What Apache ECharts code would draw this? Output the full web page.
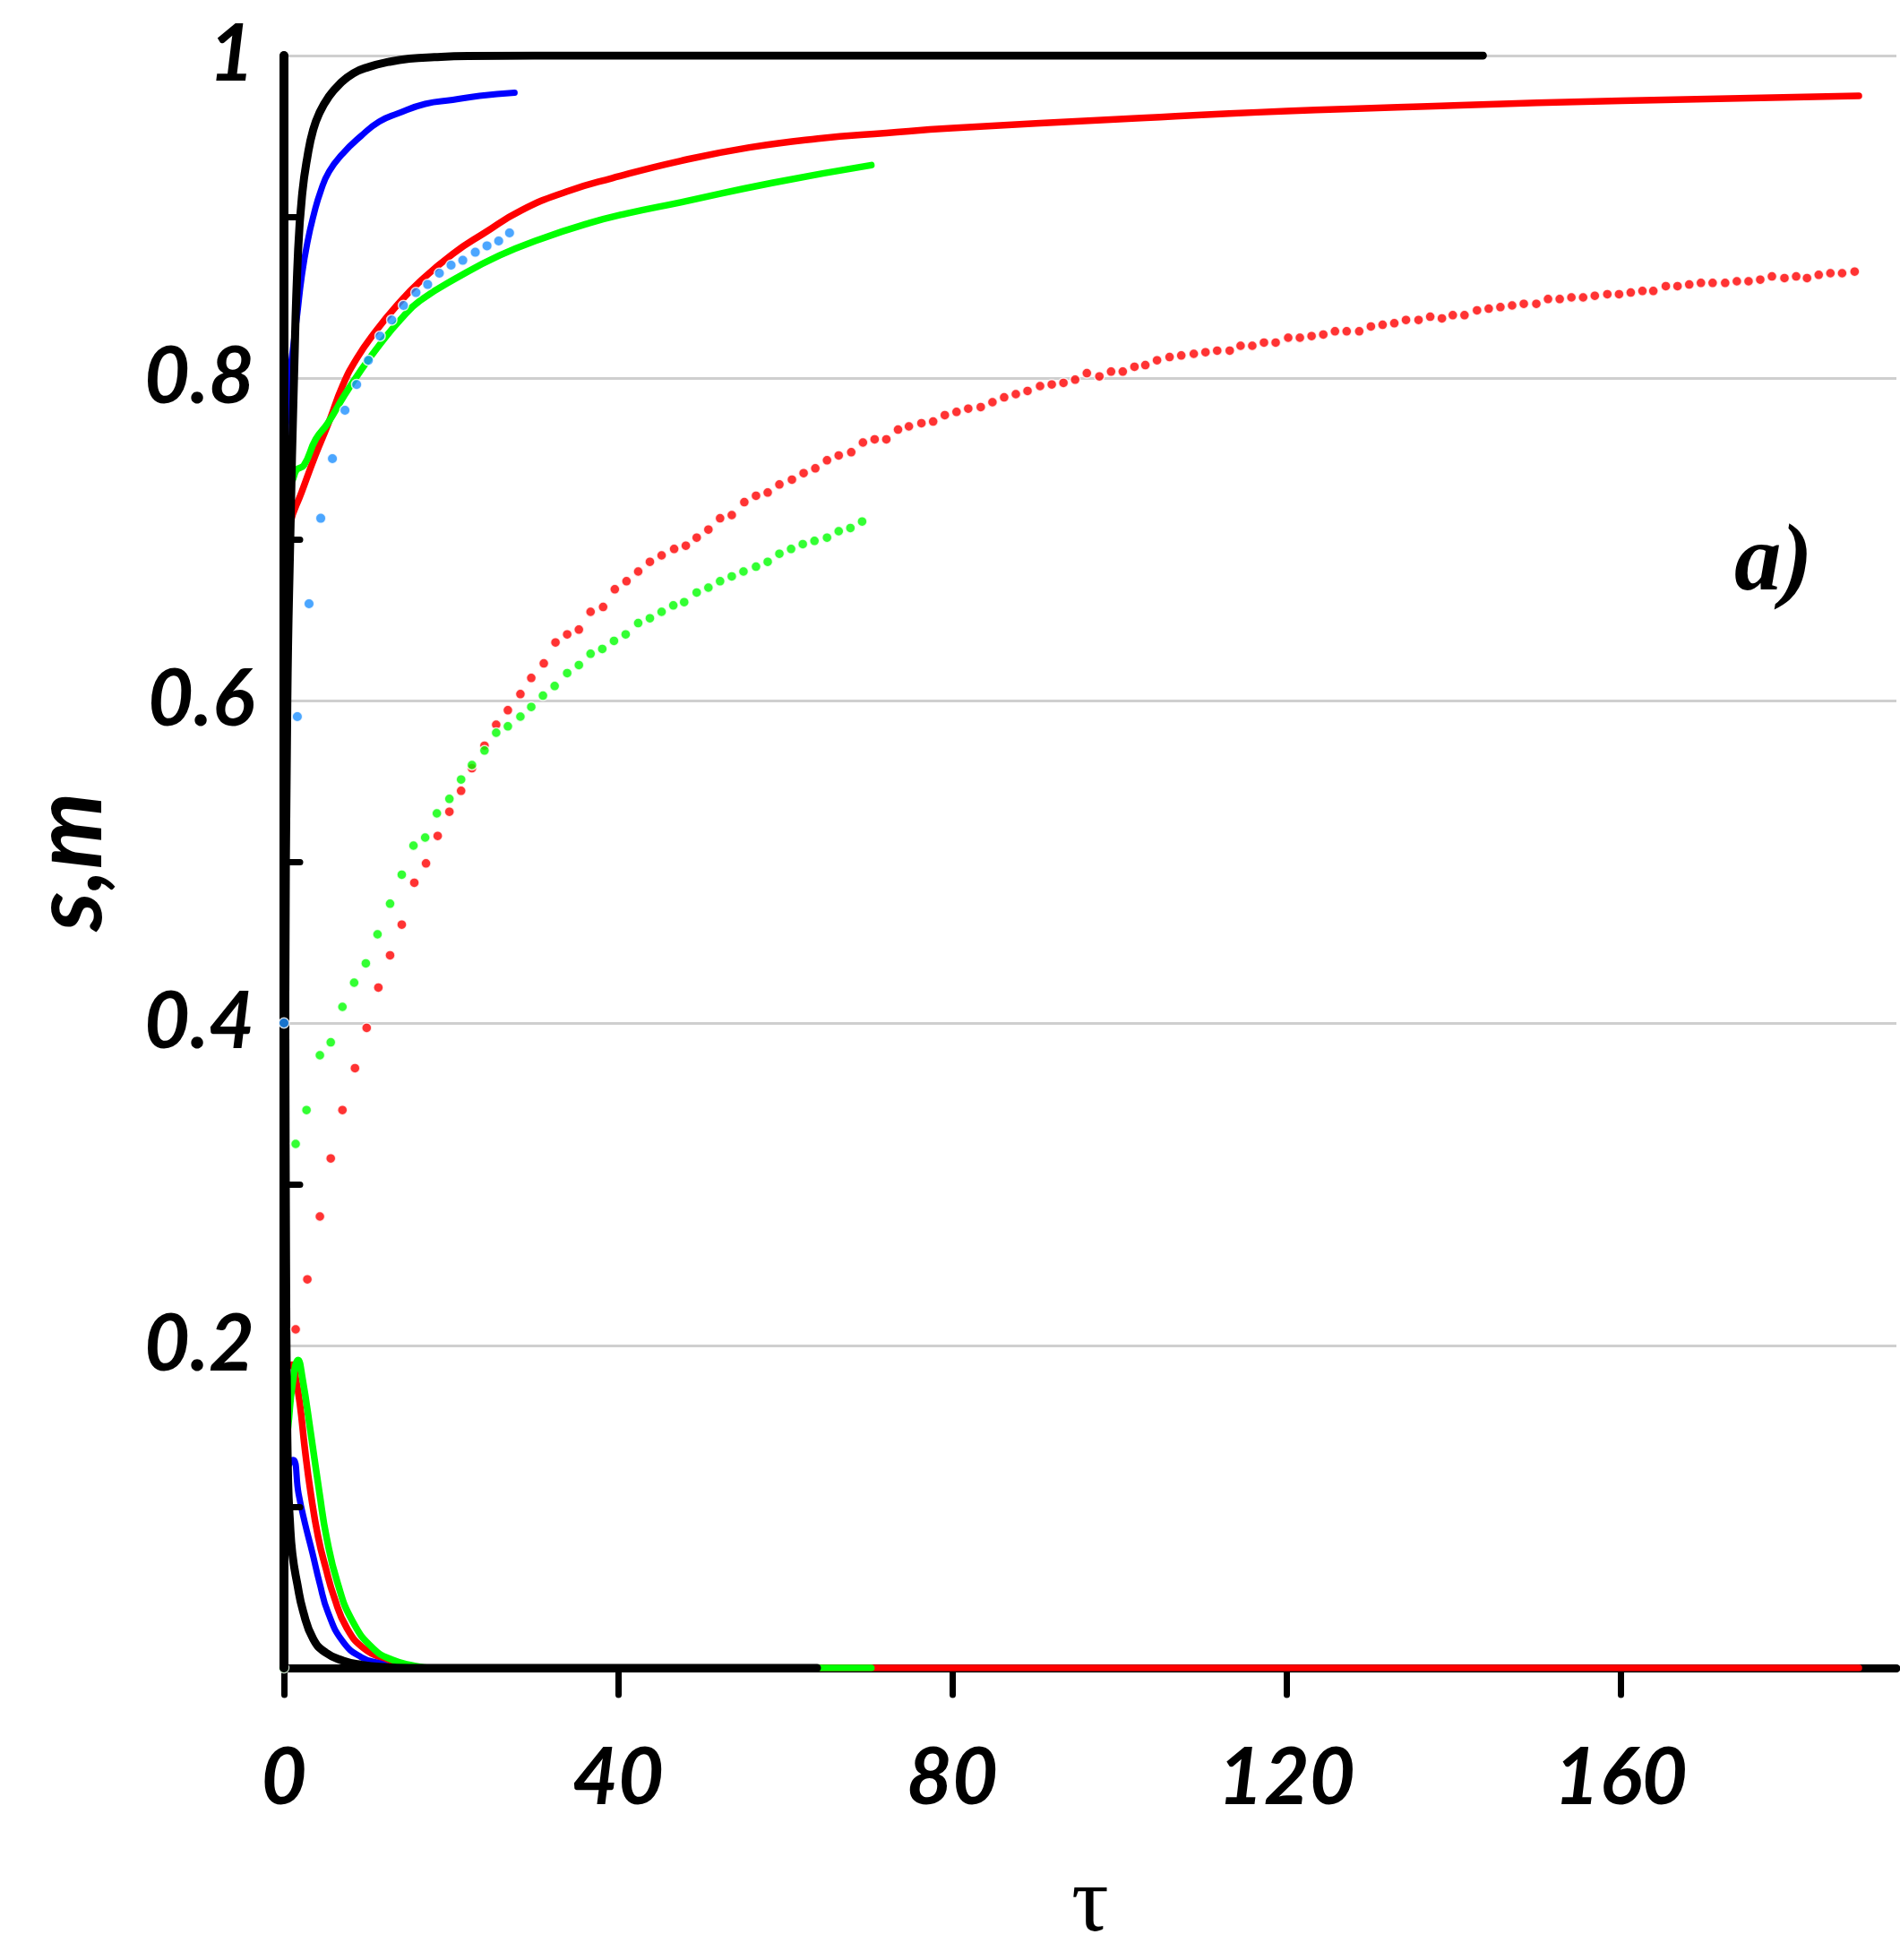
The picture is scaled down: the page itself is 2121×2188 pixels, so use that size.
<!DOCTYPE html>
<html>
<head>
<meta charset="utf-8">
<script src="https://cdn.jsdelivr.net/npm/echarts@6/dist/echarts.min.js"></script>
<style>
html,body{margin:0;padding:0;background:#fff;}
#chart{width:2121px;height:2188px;}
</style>
</head>
<body>
<div id="chart"></div>
<script>
// ---- tick labels ----
var xTickValues = [0, 40, 80, 120, 160];
var yLabelValues = [0.2, 0.4, 0.6, 0.8, 1];
var yMinorTickValues = [0.1, 0.3, 0.5, 0.7, 0.9];

// ---- solid curves: m ----
var blackM = [[0,0],[0.15,0.4],[0.4,0.6],[0.75,0.7],[1.2,0.8],[1.7,0.88],[2.2,0.915],[2.8,0.937],[3.5,0.954],[4.3,0.965],[5.3,0.974],[6.6,0.982],[8.3,0.989],[10.2,0.993],[12.5,0.996],[15,0.998],[18,0.999],[22,0.9997],[30,1],[143.5,1]];
var blueM = [[0,0.55],[0.1,0.7],[0.25,0.77],[0.5,0.792],[1,0.815],[1.6,0.84],[2.1,0.862],[2.8,0.884],[3.6,0.902],[4.4,0.916],[5.4,0.928],[7,0.939],[9.2,0.95],[11.4,0.959],[13.6,0.964],[16.9,0.97],[20.2,0.9725],[23.4,0.975],[27.6,0.977]];
var redM = [[0,0.51],[0.25,0.69],[0.75,0.71],[2.1,0.729],[3.75,0.752],[5.4,0.773],[7,0.795],[8.7,0.812],[10.9,0.8285],[13.6,0.8455],[16.3,0.86],[20.2,0.877],[24,0.89],[28.4,0.904],[33.8,0.9156],[39.3,0.924],[47.5,0.9347],[55.7,0.943],[63.9,0.9485],[72.1,0.952],[80,0.955],[100,0.9605],[120,0.9655],[140,0.969],[160,0.972],[188.5,0.975]];
var greenM = [[0,0.52],[0.3,0.7],[0.6,0.745],[1,0.737],[1.5,0.743],[2.4,0.746],[3.8,0.762],[5.25,0.772],[7.2,0.789],[9.1,0.804],[11.5,0.821],[13.9,0.836],[16.3,0.848],[21,0.863],[25.8,0.876],[30.6,0.886],[36.5,0.896],[41,0.902],[47.5,0.909],[58.4,0.921],[70.3,0.932]];

// ---- solid curves: s ----
var blackS = [[0,1],[0.08,0.6],[0.16,0.4],[0.25,0.25],[0.35,0.17],[0.5,0.115],[0.7,0.092],[1.0,0.071],[1.6,0.052],[2.3,0.035],[3.5,0.018],[5,0.0095],[7.1,0.0045],[9.2,0.002],[12,0.0005],[15,0],[25,0],[40,0],[63.8,0]];
var blueS = [[0,0.115],[0.5,0.125],[1.1,0.129],[1.75,0.108],[2.5,0.09],[3.4,0.0715],[4.25,0.053],[5.3,0.034],[7.1,0.016],[9.25,0.0067],[11.4,0.003],[13.5,0],[20,0],[27.5,0]];
var redS = [[0,0.17],[0.4,0.186],[1.0,0.188],[1.4,0.18],[1.9,0.164],[2.5,0.136],[3.2,0.1085],[4.1,0.081],[5,0.062],[6,0.044],[7.5,0.025],[9.6,0.012],[12.1,0.0057],[14.5,0.002],[16.5,0],[25,0],[40,0],[188.5,0]];
var greenS = [[0,0.13],[0.5,0.15],[1.0,0.175],[1.7,0.191],[2.2,0.18],[3.2,0.146],[4.25,0.1085],[5.1,0.081],[6.4,0.053],[8.2,0.029],[10.7,0.012],[13,0.005],[15.5,0.0015],[17.5,0],[25,0],[40,0],[70.3,0]];

// ---- dotted series ----
var blueDots = [[0,0.400],[1.6,0.590],[3.0,0.660],[4.4,0.713],[5.8,0.750],[7.3,0.780],[8.7,0.796],[10.1,0.811],[11.5,0.826],[12.9,0.836],[14.3,0.845],[15.8,0.853],[17.2,0.858],[18.6,0.865],[20.0,0.870],[21.4,0.873],[22.9,0.878],[24.3,0.882],[25.7,0.885],[27.0,0.890]];
var redDots = [[1.4,0.210],[2.8,0.241],[4.3,0.280],[5.6,0.316],[7.0,0.346],[8.5,0.372],[9.9,0.397],[11.3,0.422],[12.7,0.442],
[14.1,0.461],[15.6,0.487],[17.0,0.499],[18.4,0.516],[19.8,0.531],[21.2,0.544],[22.5,0.558],[24.0,0.572],[25.4,0.585],[26.8,0.594],[28.3,0.604],[29.6,0.614],[31.1,0.623],[32.5,0.636],[33.9,0.641],[35.3,0.644],[36.7,0.655],[38.2,0.658],[39.6,0.669],[41.0,0.674],[42.4,0.680],[43.8,0.686],[45.2,0.690],[46.7,0.694],[48.1,0.696],[49.4,0.701],[50.8,0.706],[52.2,0.713],[53.6,0.715],
[55.1,0.723],[56.5,0.727],[57.9,0.729],[59.3,0.734],[60.8,0.737],[62.2,0.741],[63.6,0.744],[65.0,0.749],[66.4,0.752],[67.9,0.754],[69.3,0.760],[70.7,0.762],[72.1,0.762],[73.5,0.768],[74.8,0.770],[76.3,0.772],[77.7,0.773],[79.1,0.777],[80.5,0.779],[81.9,0.781],[83.4,0.782],[84.8,0.785],[86.2,0.788],[87.6,0.790],[89.0,0.792],[90.5,0.795],[91.9,0.796],[93.3,0.797],[94.7,0.799],[96.1,0.803],[97.6,0.801],[99.0,0.804],[100.4,0.804],[101.8,0.807],[103.1,0.808],[104.5,0.811],[106.0,0.813],[107.4,0.814],
[108.9,0.815],[110.3,0.816],[111.7,0.817],[113.2,0.817],[114.5,0.820],[115.9,0.820],[117.3,0.822],[118.7,0.822],[120.2,0.825],[121.6,0.825],[123.0,0.826],[124.4,0.827],[125.8,0.829],[127.2,0.829],[128.7,0.829],[130.1,0.832],[131.5,0.833],[132.9,0.834],[134.3,0.836],[135.8,0.836],[137.2,0.838],[138.6,0.837],[139.9,0.839],[141.3,0.839],[142.8,0.842],[144.2,0.843],[145.6,0.844],[147.0,0.845],[148.4,0.846],[149.9,0.846],[151.3,0.849],[152.7,0.849],[154.1,0.850],[155.5,0.850],[156.9,0.851],[158.4,0.852],[159.8,0.852],[161.2,0.853],[162.6,0.854],
[163.9,0.854],[165.4,0.857],[166.8,0.857],[168.2,0.858],[169.6,0.859],[171.0,0.859],[172.5,0.859],[173.9,0.860],[175.3,0.860],[176.7,0.861],[178.1,0.863],[179.6,0.862],[181.0,0.863],[182.3,0.862],[183.7,0.864],[185.1,0.865],[186.5,0.865],[188.0,0.866]];
var greenDots = [[0,0],[1.4,0.325],[2.7,0.346],[4.3,0.380],[5.6,0.388],[7.0,0.410],[8.4,0.425],[9.8,0.437],[11.2,0.455],[12.7,0.474],[14.1,0.492],[15.5,0.510],[16.9,0.515],[18.3,0.530],[19.8,0.539],[21.2,0.551],[22.5,0.560],[24.0,0.569],[25.4,0.580],[26.8,0.584],[28.3,0.590],[29.6,0.596],[31.0,0.603],[32.4,0.609],[33.9,0.617],[35.3,0.622],[36.7,0.629],[38.1,0.632],[39.5,0.637],[40.9,0.641],[42.4,0.648],[43.8,0.651],[45.2,0.655],[46.6,0.659],[47.9,0.661],[49.4,0.667],[50.8,0.670],[52.2,0.674],[53.6,0.677],[55.0,0.680],[56.5,0.683],[57.9,0.686],[59.3,0.691],[60.7,0.694],[62.1,0.697],[63.5,0.699],[65.0,0.701],[66.4,0.705],[67.8,0.707],[69.2,0.711]];

var chart = echarts.init(document.getElementById('chart'), null, {renderer: 'canvas'});

function lineSeries(name, data, color, width, z) {
  return {
    name: name, type: 'line', data: data, showSymbol: false, symbol: 'none',
    smooth: 0.5, z: z,
    lineStyle: {color: color, width: width, cap: 'round', join: 'round'},
    emphasis: {disabled: true}, silent: true
  };
}
function dotSeries(name, data, color, size, z) {
  return {
    name: name, type: 'scatter', data: data, symbol: 'circle', symbolSize: size, z: z,
    itemStyle: {color: color, borderColor: '#ffffff', borderWidth: 1.5},
    emphasis: {disabled: true}, silent: true
  };
}

var labelFont = {fontFamily: 'Lato', fontWeight: 'bold', fontStyle: 'italic', fontSize: 88, color: '#000'};

var option = {
  animation: false,
  backgroundColor: '#ffffff',
  grid: {left: 317, right: 4, top: 62, bottom: 326},
  xAxis: {
    type: 'value', min: 0, max: 193, interval: 40,
    name: 'τ', nameLocation: 'middle', nameGap: 214,
    nameTextStyle: {fontFamily: 'Liberation Serif', fontSize: 104, color: '#000'},
    axisLine: {show: true, onZero: false, lineStyle: {color: '#000', width: 9, cap: 'round'}},
    axisTick: {show: true, inside: false, length: 30, customValues: xTickValues, lineStyle: {color: '#000', width: 7, cap: 'round'}},
    axisLabel: Object.assign({show: true, margin: 80, customValues: xTickValues, formatter: function (v) { return String(v); }}, labelFont),
    splitLine: {show: false}
  },
  yAxis: [
    {
      type: 'value', min: 0, max: 1, interval: 0.2, position: 'left',
      name: 's,m', nameLocation: 'middle', nameGap: 185,
      nameTextStyle: {fontFamily: 'Lato', fontWeight: 'bold', fontStyle: 'italic', fontSize: 108, color: '#000'},
      axisLine: {show: false},
      axisTick: {show: false},
      axisLabel: Object.assign({show: true, margin: 33, customValues: yLabelValues, formatter: function (v) { return v === 1 ? '1' : v.toFixed(1); }}, labelFont),
      splitLine: {show: true, lineStyle: {color: '#cfcfcf', width: 3}}
    },
    {
      type: 'value', min: 0, max: 1, interval: 0.2, position: 'left', offset: 0, z: 5,
      axisLine: {show: true, lineStyle: {color: '#000', width: 10, cap: 'round'}},
      axisTick: {show: true, inside: true, length: 18, customValues: yMinorTickValues, lineStyle: {color: '#000', width: 7, cap: 'round'}},
      axisLabel: {show: false},
      splitLine: {show: false}
    }
  ],
  graphic: [
    {type: 'text', left: 1936, top: 578, z: 20, silent: true,
     style: {text: 'a)', font: 'italic bold 105px "Liberation Serif"', fill: '#000'}}
  ],
  series: [
    dotSeries('red dots', redDots, '#ff0000', 11, 3),
    dotSeries('green dots', greenDots, '#00ff00', 11, 3.1),
    lineSeries('red m', redM, '#ff0000', 7.5, 2),
    lineSeries('red s', redS, '#ff0000', 7.5, 2),
    lineSeries('green m', greenM, '#00ff00', 7.5, 2.1),
    lineSeries('green s', greenS, '#00ff00', 7.5, 2.1),
    lineSeries('blue m', blueM, '#0000ff', 7, 2.2),
    lineSeries('blue s', blueS, '#0000ff', 7, 2.2),
    lineSeries('black m', blackM, '#000000', 9, 2.3),
    lineSeries('black s', blackS, '#000000', 9, 2.3),
    dotSeries('blue dots', blueDots, '#1e90ff', 11.5, 8)
  ]
};
chart.setOption(option);
</script>
</body>
</html>
